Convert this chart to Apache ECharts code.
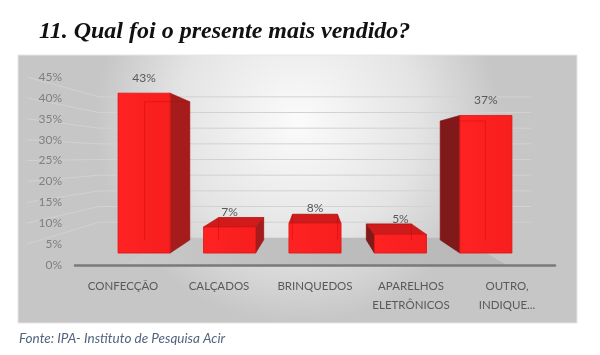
<!DOCTYPE html>
<html>
<head>
<meta charset="utf-8">
<script src="https://cdn.jsdelivr.net/npm/echarts@6/dist/echarts.min.js"></script>
<style>html,body{margin:0;padding:0;background:#fff;}#c{width:600px;height:355px;}</style>
</head>
<body>
<div id="c"></div>
<script>
const categories = ['CONFECÇÃO', 'CALÇADOS', 'BRINQUEDOS', 'APARELHOS\nELETRÔNICOS', 'OUTRO,\nINDIQUE...'];
const values = [43, 7, 8, 5, 37];
const yTicks = [0, 5, 10, 15, 20, 25, 30, 35, 40, 45];
const titleText = '11. Qual foi o presente mais vendido?';
const sourceText = 'Fonte: IPA- Instituto de Pesquisa Acir';

const chart = echarts.init(document.getElementById('c'));

// perspective helpers
const S_WALL = 0.75, S_FRONT = 0.89, S_BACK = 0.77;
function vpOf(api) { return api.coord([2, 26]); }
function proj(vp, p, s) { return [vp[0] + s * (p[0] - vp[0]), vp[1] + s * (p[1] - vp[1])]; }

function renderWalls(params, api) {
  const vp = vpOf(api);
  const children = [];
  const fl = api.coord([-0.5, 0]), fr = api.coord([4.45, 0]);
  children.push({
    type: 'polygon',
    shape: { points: [fl, fr, proj(vp, fr, S_WALL), proj(vp, fl, S_WALL)] },
    style: { fill: new echarts.graphic.LinearGradient(0, 0, 1, 0, [
      { offset: 0, color: '#c9c9c9' }, { offset: 0.5, color: '#bdbdbd' }, { offset: 1, color: '#b8b8b8' }]) }
  });
  yTicks.forEach(function (t) {
    if (t === 0) return;
    const a = api.coord([-0.6, t]);
    const b = proj(vp, a, S_WALL);
    const c = proj(vp, api.coord([4.6, t]), S_WALL);
    children.push({
      type: 'polyline',
      shape: { points: [a, b, c] },
      style: { stroke: '#d2d2d2', lineWidth: 1, fill: null }
    });
  });
  return { type: 'group', children: children };
}

function renderBar(params, api) {
  const vp = vpOf(api);
  const i = api.value(0), v = api.value(1);
  const half = api.size([1, 0])[0] * 0.305;
  const c = api.coord([i, v]), b = api.coord([i, 0]);
  const TL = [c[0] - half, c[1]], TR = [c[0] + half, c[1]];
  const BL = [b[0] - half, b[1]], BR = [b[0] + half, b[1]];
  const f = [TL, TR, BR, BL].map(p => proj(vp, p, S_FRONT));
  const k = [TL, TR, BR, BL].map(p => proj(vp, p, S_BACK));
  const children = [];
  if (f[1][0] < vp[0] - 1) {
    children.push({ type: 'polygon', shape: { points: [f[1], k[1], k[2], f[2]] },
      style: { fill: '#a61c1c', stroke: '#8e1414', lineWidth: 0.6 } });
  }
  if (f[0][0] > vp[0] + 1) {
    children.push({ type: 'polygon', shape: { points: [f[0], k[0], k[3], f[3]] },
      style: { fill: '#801a1a', stroke: '#6e1212', lineWidth: 0.6 } });
  }
  if (f[0][1] > vp[1]) {
    children.push({ type: 'polygon', shape: { points: [f[0], f[1], k[1], k[0]] },
      style: { fill: '#cf1b1b', stroke: '#b01414', lineWidth: 0.6 } });
  }
  children.push({ type: 'polygon', shape: { points: f },
    style: { fill: new echarts.graphic.LinearGradient(0, 0, 1, 0, [
      { offset: 0, color: '#ff2222' }, { offset: 1, color: '#f71e1e' }]), stroke: '#e01212', lineWidth: 0.8 } });
  // inner (see-through) edges
  children.push({ type: 'polyline', shape: { points: [k[3], k[0], k[1], k[2]] },
    style: { fill: null, stroke: 'rgba(190,0,0,0.35)', lineWidth: 1 } });
  children.push({ type: 'text', x: (f[0][0] + f[1][0]) / 2, y: f[0][1] - 15,
    style: { text: v + '%', fill: '#595959', font: '12px Lato', align: 'center', verticalAlign: 'middle' } });
  return { type: 'group', children: children };
}

chart.setOption({
  animation: false,
  title: [
    { text: titleText, left: 34, top: 15,
      textStyle: { fontFamily: 'Liberation Serif', fontStyle: 'italic', fontWeight: 'bold', fontSize: 24, color: '#111' } },
    { text: sourceText, left: 14, top: 327,
      textStyle: { fontFamily: 'Lato', fontStyle: 'italic', fontWeight: 'normal', fontSize: 13.5, color: '#52647f' } }
  ],
  graphic: [{
    type: 'rect', z: -10,
    shape: { x: 18, y: 55, width: 559, height: 268 },
    style: { fill: new echarts.graphic.RadialGradient(0.5, 0.25, 0.75, [
      { offset: 0, color: '#fbfbfb' }, { offset: 0.6, color: '#e4e4e4' }, { offset: 1, color: '#c6c6c6' }]),
      stroke: '#e6e6e6', lineWidth: 1 }
  }],
  grid: { left: 75, right: 45, top: 77, bottom: 90 },
  xAxis: {
    type: 'category', data: categories, boundaryGap: true,
    axisLine: { lineStyle: { color: '#7a7a7a', width: 2.5 } },
    axisTick: { show: false },
    axisLabel: { color: '#595959', fontFamily: 'Lato', fontSize: 11.5, margin: 12, lineHeight: 19, interval: 0 }
  },
  yAxis: {
    type: 'value', min: 0, max: 45, interval: 5,
    axisLine: { show: false }, axisTick: { show: false }, splitLine: { show: false },
    axisLabel: { formatter: '{value}%', color: '#7f7f7f', fontFamily: 'Lato', fontSize: 12, margin: 13 }
  },
  series: [
    { type: 'custom', z: -1, silent: true, renderItem: renderWalls, data: [[0, 0]], clip: false },
    { type: 'custom', z: 2, renderItem: renderBar, data: values.map((v, i) => [i, v]), clip: false }
  ]
});
</script>
</body>
</html>
